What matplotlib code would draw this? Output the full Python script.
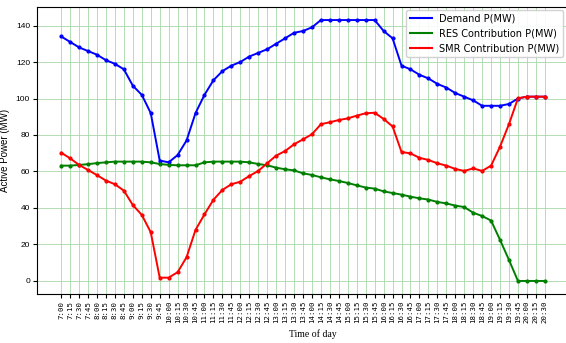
import matplotlib
matplotlib.use("Agg")
import matplotlib.pyplot as plt
from matplotlib.lines import Line2D

times = ["7:00","7:15","7:30","7:45","8:00","8:15","8:30","8:45","9:00","9:15","9:30","9:45",
         "10:00","10:15","10:30","10:45","11:00","11:15","11:30","11:45","12:00","12:15","12:30","12:45",
         "13:00","13:15","13:30","13:45","14:00","14:15","14:30","14:45","15:00","15:15","15:30","15:45",
         "16:00","16:15","16:30","16:45","17:00","17:15","17:30","17:45","18:00","18:15","18:30","18:45",
         "19:00","19:15","19:30","19:45","20:00","20:15","20:30"]

demand = [134,131,128,126,124,121,119,116,107,102,92,66,65,69,77,92,102,110,115,118,120,123,125,127,
          130,133,136,137,139,143,143,143,143,143,143,143,137,133,118,116,113,111,108,106,103,101,99,96,
          96,96,97,100,101,101,101]

res = [63.2,63.2,63.6,64,64.6,65,65.4,65.4,65.4,65.4,65,64.1,63.6,63.4,63.4,63.4,65,65.4,65.4,65.4,
       65.4,65,64.1,63.4,62.1,61.2,60.6,59,58.1,56.8,55.7,54.8,53.7,52.4,51.2,50.6,49.1,48.2,47.3,46.2,
       45.3,44.6,43.3,42.5,41.3,40.5,37.4,35.6,33.1,22.5,11.5,0,0,0,0]

smr = [70.3,67.2,63.6,60.8,58,55,53,49.5,41.6,36.2,26.7,1.8,1.8,4.8,13,28,36.5,44.5,49.9,53,54.4,57.5,
       60.3,64.5,68.7,71.2,74.9,77.6,80.4,85.9,87,88.2,89.1,90.6,91.9,92.2,88.8,84.7,70.7,69.9,67.5,66.3,
       64.5,63.2,61.4,60.3,61.7,60.3,63.2,73.6,86,100.1,101,101,101]

names = ["Demand P(MW)", "RES Contribution P(MW)", "SMR Contribution P(MW)"]
colors = ["#0000ff", "#008000", "#ff0000"]

fig = plt.figure(figsize=(5.66, 3.43), dpi=100)
ax = fig.add_axes([37/566, 49/343, 532/566, 287/343])
x = list(range(len(times)))
for vals, c in zip([demand, res, smr], colors):
    ax.plot(x, vals, color=c, lw=1.4, marker='o', ms=2.0)

ax.set_xticks(x)
ax.set_xticklabels(times, rotation=90, fontsize=5.3, family="DejaVu Sans Mono")
ax.set_yticks([0, 20, 40, 60, 80, 100, 120, 140])
ax.tick_params(axis='y', labelsize=6, length=3, pad=2)
ax.tick_params(axis='x', length=3, pad=2)
for lab in ax.get_yticklabels():
    lab.set_family("Liberation Sans")
ax.grid(True, color="#a8d8a8", lw=0.6)
ax.set_ylim(-7.15, 150.15)
ax.set_xlim(-2.7, 56.7)
ax.set_ylabel("Active Power (MW)", fontsize=7, family="Liberation Sans")
ax.yaxis.set_label_coords(-0.051, 0.5)
ax.set_xlabel("Time of day", fontsize=7, family="Liberation Serif")
ax.xaxis.set_label_coords(0.519, -0.122)

handles = [Line2D([0], [0], color=c, lw=1.5) for c in colors]
ax.legend(handles, names, loc="upper right", fontsize=7, framealpha=0.9,
          bbox_to_anchor=(0.995, 1.0), handlelength=2.2, borderaxespad=0.3)

fig.savefig("out.png", dpi=100)
